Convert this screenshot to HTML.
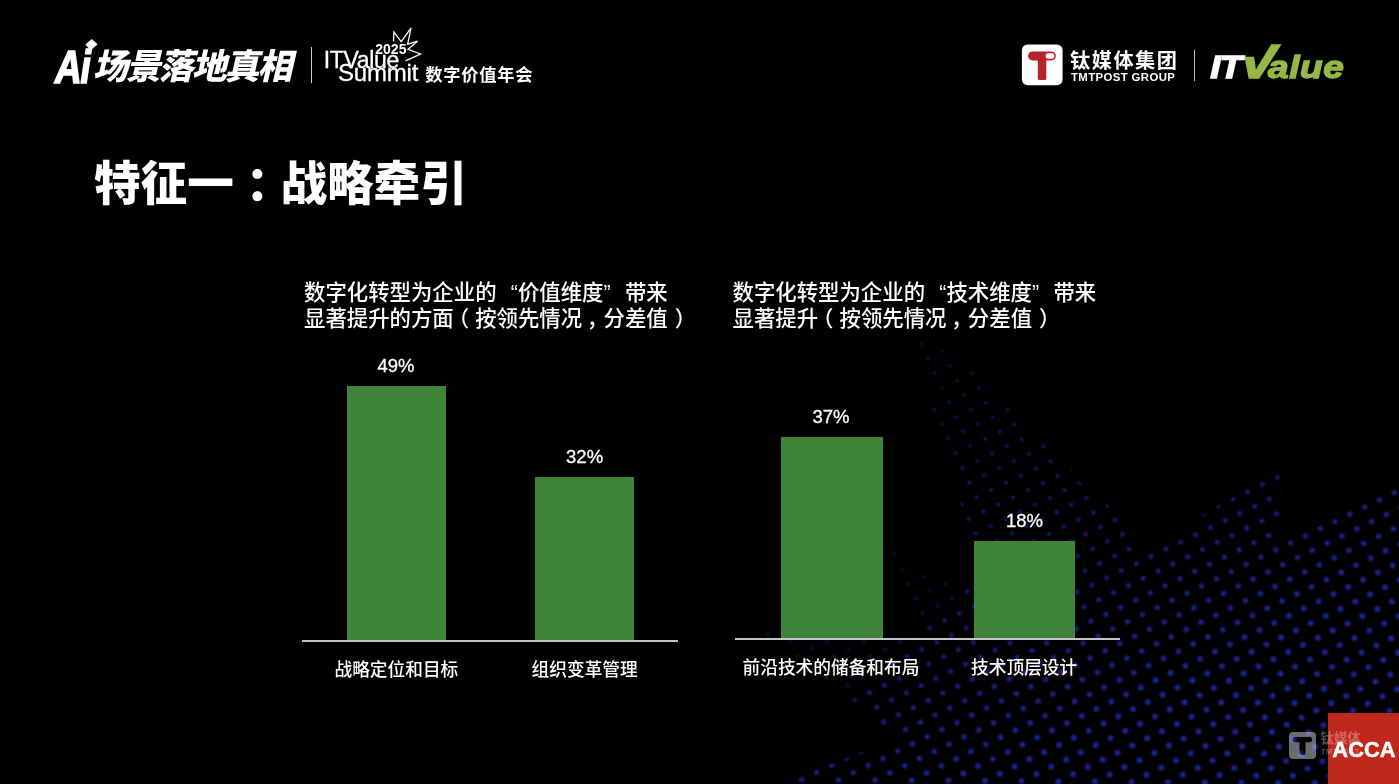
<!DOCTYPE html>
<html lang="zh-CN">
<head>
<meta charset="utf-8">
<title>特征一：战略牵引</title>
<style>
html,body{margin:0;padding:0;background:#000;}
body{width:1399px;height:784px;position:relative;overflow:hidden;color:#fff;
  font-family:"Liberation Sans","Noto Sans CJK SC",sans-serif;}
.abs{position:absolute;white-space:nowrap;}
#dots{position:absolute;left:0;top:0;}
.title{left:94px;top:148.5px;font-size:46.6px;line-height:70px;font-weight:900;letter-spacing:0;}
.sub{font-size:21.4px;line-height:26.3px;font-weight:500;}
.fw{display:inline-block;width:1em;}
.bar{position:absolute;background:#3e853a;}
.axis{position:absolute;height:1.7px;background:#c4c4c4;}
.val{font-size:18.5px;line-height:20px;transform:translateX(-50%);-webkit-text-stroke:0.3px #fff;}
.lab{font-size:17.7px;line-height:20px;transform:translateX(-50%);font-weight:500;}
.sep{position:absolute;width:1px;background:#d0d0d0;}
</style>
</head>
<body>
<svg id="dots" width="1399" height="784" viewBox="0 0 1399 784" fill="#1e2aaa">
<defs><clipPath id="dc"><polygon points="918,336 946,345 1119,516 1135,555 1281,468.5 1283,482 1278,546 1402,485.2 1402,790 770,790 780,784 897,738 760,633 770,626 782,632 884,637 930,637 887.5,548 897,550 925,571 990,596 975,560 966,520 931,409"/></clipPath><filter id="db1" x="-5%" y="-5%" width="110%" height="110%"><feGaussianBlur stdDeviation="0.85"/></filter><filter id="db2" x="-5%" y="-5%" width="110%" height="110%"><feGaussianBlur stdDeviation="0.85"/></filter></defs>
<g clip-path="url(#dc)"><g filter="url(#db1)" fill="#222eaa">
<circle cx="894.6" cy="554.7" r="1.90" fill-opacity="0.32"/>
<circle cx="954.6" cy="489.6" r="1.80" fill-opacity="0.69"/>
<circle cx="961.6" cy="504.2" r="1.85" fill-opacity="0.70"/>
<circle cx="968.6" cy="518.8" r="1.90" fill-opacity="0.72"/>
<circle cx="927.3" cy="394.8" r="1.51" fill-opacity="0.60"/>
<circle cx="934.4" cy="409.4" r="1.56" fill-opacity="0.61"/>
<circle cx="941.4" cy="424.0" r="1.61" fill-opacity="0.63"/>
<circle cx="948.4" cy="438.6" r="1.66" fill-opacity="0.64"/>
<circle cx="955.4" cy="453.2" r="1.70" fill-opacity="0.66"/>
<circle cx="962.4" cy="467.8" r="1.75" fill-opacity="0.67"/>
<circle cx="969.4" cy="482.4" r="1.80" fill-opacity="0.69"/>
<circle cx="976.4" cy="497.0" r="1.85" fill-opacity="0.70"/>
<circle cx="983.5" cy="511.6" r="1.90" fill-opacity="0.72"/>
<circle cx="921.1" cy="343.9" r="1.36" fill-opacity="0.55"/>
<circle cx="928.1" cy="358.5" r="1.41" fill-opacity="0.57"/>
<circle cx="935.1" cy="373.1" r="1.46" fill-opacity="0.58"/>
<circle cx="942.1" cy="387.7" r="1.51" fill-opacity="0.60"/>
<circle cx="949.2" cy="402.3" r="1.56" fill-opacity="0.61"/>
<circle cx="956.2" cy="416.9" r="1.61" fill-opacity="0.63"/>
<circle cx="963.2" cy="431.5" r="1.66" fill-opacity="0.64"/>
<circle cx="970.2" cy="446.1" r="1.71" fill-opacity="0.66"/>
<circle cx="977.2" cy="460.7" r="1.75" fill-opacity="0.67"/>
<circle cx="984.2" cy="475.3" r="1.80" fill-opacity="0.69"/>
<circle cx="991.2" cy="489.9" r="1.85" fill-opacity="0.70"/>
<circle cx="998.3" cy="504.5" r="1.90" fill-opacity="0.72"/>
<circle cx="942.9" cy="351.3" r="1.41" fill-opacity="0.57"/>
<circle cx="949.9" cy="365.9" r="1.46" fill-opacity="0.58"/>
<circle cx="957.0" cy="380.5" r="1.51" fill-opacity="0.60"/>
<circle cx="964.0" cy="395.1" r="1.56" fill-opacity="0.61"/>
<circle cx="971.0" cy="409.7" r="1.61" fill-opacity="0.63"/>
<circle cx="978.0" cy="424.3" r="1.66" fill-opacity="0.64"/>
<circle cx="985.0" cy="438.9" r="1.71" fill-opacity="0.66"/>
<circle cx="992.0" cy="453.5" r="1.75" fill-opacity="0.67"/>
<circle cx="999.0" cy="468.1" r="1.80" fill-opacity="0.69"/>
<circle cx="1006.1" cy="482.7" r="1.85" fill-opacity="0.70"/>
<circle cx="1013.1" cy="497.3" r="1.90" fill-opacity="0.72"/>
<circle cx="971.8" cy="373.3" r="1.51" fill-opacity="0.60"/>
<circle cx="978.8" cy="387.9" r="1.56" fill-opacity="0.61"/>
<circle cx="985.8" cy="402.5" r="1.61" fill-opacity="0.63"/>
<circle cx="992.8" cy="417.1" r="1.66" fill-opacity="0.64"/>
<circle cx="999.8" cy="431.7" r="1.71" fill-opacity="0.66"/>
<circle cx="1006.8" cy="446.3" r="1.76" fill-opacity="0.67"/>
<circle cx="1013.9" cy="460.9" r="1.80" fill-opacity="0.69"/>
<circle cx="1020.9" cy="475.5" r="1.85" fill-opacity="0.70"/>
<circle cx="1027.9" cy="490.1" r="1.90" fill-opacity="0.72"/>
<circle cx="1000.6" cy="395.4" r="1.61" fill-opacity="0.63"/>
<circle cx="1007.6" cy="410.0" r="1.66" fill-opacity="0.64"/>
<circle cx="1014.6" cy="424.6" r="1.71" fill-opacity="0.66"/>
<circle cx="1021.7" cy="439.2" r="1.76" fill-opacity="0.67"/>
<circle cx="1028.7" cy="453.8" r="1.81" fill-opacity="0.69"/>
<circle cx="1035.7" cy="468.4" r="1.85" fill-opacity="0.71"/>
<circle cx="1042.7" cy="483.0" r="1.90" fill-opacity="0.72"/>
<circle cx="1036.5" cy="432.0" r="1.76" fill-opacity="0.68"/>
<circle cx="1043.5" cy="446.6" r="1.81" fill-opacity="0.69"/>
<circle cx="1050.5" cy="461.2" r="1.85" fill-opacity="0.71"/>
<circle cx="1057.5" cy="475.8" r="1.90" fill-opacity="0.72"/>
<circle cx="1072.3" cy="468.6" r="1.90" fill-opacity="0.72"/>
</g><g filter="url(#db2)">
<circle cx="787.0" cy="786.7" r="2.61" fill-opacity="0.81"/>
<circle cx="801.8" cy="779.5" r="2.61" fill-opacity="0.81"/>
<circle cx="816.6" cy="772.4" r="2.61" fill-opacity="0.81"/>
<circle cx="823.7" cy="787.0" r="2.67" fill-opacity="0.82"/>
<circle cx="768.3" cy="633.8" r="2.05" fill-opacity="0.29"/>
<circle cx="775.3" cy="648.4" r="2.11" fill-opacity="0.30"/>
<circle cx="831.5" cy="765.2" r="2.61" fill-opacity="0.81"/>
<circle cx="838.5" cy="779.8" r="2.67" fill-opacity="0.82"/>
<circle cx="790.1" cy="641.2" r="2.11" fill-opacity="0.30"/>
<circle cx="797.2" cy="655.8" r="2.17" fill-opacity="0.31"/>
<circle cx="804.2" cy="670.4" r="2.24" fill-opacity="0.32"/>
<circle cx="846.3" cy="758.0" r="2.61" fill-opacity="0.81"/>
<circle cx="853.3" cy="772.6" r="2.67" fill-opacity="0.82"/>
<circle cx="860.3" cy="787.2" r="2.73" fill-opacity="0.84"/>
<circle cx="805.0" cy="634.1" r="2.11" fill-opacity="0.30"/>
<circle cx="812.0" cy="648.7" r="2.18" fill-opacity="0.31"/>
<circle cx="819.0" cy="663.2" r="2.24" fill-opacity="0.32"/>
<circle cx="826.0" cy="677.9" r="2.30" fill-opacity="0.33"/>
<circle cx="833.0" cy="692.5" r="2.36" fill-opacity="0.33"/>
<circle cx="861.1" cy="750.9" r="2.61" fill-opacity="0.81"/>
<circle cx="868.1" cy="765.5" r="2.67" fill-opacity="0.82"/>
<circle cx="875.1" cy="780.1" r="2.74" fill-opacity="0.84"/>
<circle cx="826.8" cy="641.5" r="2.18" fill-opacity="0.31"/>
<circle cx="833.8" cy="656.1" r="2.24" fill-opacity="0.32"/>
<circle cx="840.8" cy="670.7" r="2.30" fill-opacity="0.33"/>
<circle cx="847.8" cy="685.3" r="2.36" fill-opacity="0.33"/>
<circle cx="854.8" cy="699.9" r="2.43" fill-opacity="0.58"/>
<circle cx="861.9" cy="714.5" r="2.49" fill-opacity="0.77"/>
<circle cx="875.9" cy="743.7" r="2.61" fill-opacity="0.81"/>
<circle cx="882.9" cy="758.3" r="2.67" fill-opacity="0.82"/>
<circle cx="889.9" cy="772.9" r="2.74" fill-opacity="0.84"/>
<circle cx="896.9" cy="787.5" r="2.80" fill-opacity="0.86"/>
<circle cx="841.6" cy="634.3" r="2.18" fill-opacity="0.31"/>
<circle cx="848.6" cy="648.9" r="2.24" fill-opacity="0.32"/>
<circle cx="855.6" cy="663.5" r="2.30" fill-opacity="0.33"/>
<circle cx="862.6" cy="678.1" r="2.36" fill-opacity="0.33"/>
<circle cx="869.7" cy="692.7" r="2.43" fill-opacity="0.76"/>
<circle cx="876.7" cy="707.3" r="2.49" fill-opacity="0.77"/>
<circle cx="883.7" cy="721.9" r="2.55" fill-opacity="0.79"/>
<circle cx="890.7" cy="736.5" r="2.61" fill-opacity="0.81"/>
<circle cx="897.7" cy="751.1" r="2.67" fill-opacity="0.82"/>
<circle cx="904.7" cy="765.7" r="2.74" fill-opacity="0.84"/>
<circle cx="911.7" cy="780.3" r="2.80" fill-opacity="0.86"/>
<circle cx="863.4" cy="641.7" r="2.24" fill-opacity="0.32"/>
<circle cx="870.4" cy="656.3" r="2.30" fill-opacity="0.33"/>
<circle cx="877.4" cy="670.9" r="2.36" fill-opacity="0.33"/>
<circle cx="884.5" cy="685.5" r="2.43" fill-opacity="0.76"/>
<circle cx="891.5" cy="700.1" r="2.49" fill-opacity="0.77"/>
<circle cx="898.5" cy="714.7" r="2.55" fill-opacity="0.79"/>
<circle cx="905.5" cy="729.3" r="2.61" fill-opacity="0.81"/>
<circle cx="912.5" cy="743.9" r="2.68" fill-opacity="0.83"/>
<circle cx="919.5" cy="758.5" r="2.74" fill-opacity="0.84"/>
<circle cx="926.6" cy="773.1" r="2.80" fill-opacity="0.86"/>
<circle cx="933.6" cy="787.7" r="2.86" fill-opacity="0.88"/>
<circle cx="878.2" cy="634.6" r="2.24" fill-opacity="0.32"/>
<circle cx="885.2" cy="649.2" r="2.30" fill-opacity="0.33"/>
<circle cx="892.3" cy="663.8" r="2.37" fill-opacity="0.62"/>
<circle cx="899.3" cy="678.4" r="2.43" fill-opacity="0.76"/>
<circle cx="906.3" cy="693.0" r="2.49" fill-opacity="0.77"/>
<circle cx="913.3" cy="707.6" r="2.55" fill-opacity="0.79"/>
<circle cx="920.3" cy="722.2" r="2.61" fill-opacity="0.81"/>
<circle cx="927.3" cy="736.8" r="2.68" fill-opacity="0.83"/>
<circle cx="934.3" cy="751.4" r="2.74" fill-opacity="0.84"/>
<circle cx="941.4" cy="766.0" r="2.80" fill-opacity="0.86"/>
<circle cx="948.4" cy="780.6" r="2.86" fill-opacity="0.88"/>
<circle cx="900.1" cy="642.0" r="2.30" fill-opacity="0.33"/>
<circle cx="907.1" cy="656.6" r="2.37" fill-opacity="0.74"/>
<circle cx="914.1" cy="671.2" r="2.43" fill-opacity="0.76"/>
<circle cx="921.1" cy="685.8" r="2.49" fill-opacity="0.77"/>
<circle cx="928.1" cy="700.4" r="2.55" fill-opacity="0.79"/>
<circle cx="935.1" cy="715.0" r="2.62" fill-opacity="0.81"/>
<circle cx="942.1" cy="729.6" r="2.68" fill-opacity="0.83"/>
<circle cx="949.2" cy="744.2" r="2.74" fill-opacity="0.84"/>
<circle cx="956.2" cy="758.8" r="2.80" fill-opacity="0.86"/>
<circle cx="963.2" cy="773.4" r="2.86" fill-opacity="0.88"/>
<circle cx="970.2" cy="788.0" r="2.93" fill-opacity="0.89"/>
<circle cx="914.9" cy="634.8" r="2.30" fill-opacity="0.35"/>
<circle cx="921.9" cy="649.4" r="2.37" fill-opacity="0.74"/>
<circle cx="928.9" cy="664.0" r="2.43" fill-opacity="0.76"/>
<circle cx="935.9" cy="678.6" r="2.49" fill-opacity="0.77"/>
<circle cx="942.9" cy="693.2" r="2.55" fill-opacity="0.79"/>
<circle cx="949.9" cy="707.8" r="2.62" fill-opacity="0.81"/>
<circle cx="957.0" cy="722.4" r="2.68" fill-opacity="0.83"/>
<circle cx="964.0" cy="737.0" r="2.74" fill-opacity="0.84"/>
<circle cx="971.0" cy="751.6" r="2.80" fill-opacity="0.86"/>
<circle cx="978.0" cy="766.2" r="2.86" fill-opacity="0.88"/>
<circle cx="985.0" cy="780.8" r="2.93" fill-opacity="0.89"/>
<circle cx="901.6" cy="569.3" r="2.06" fill-opacity="0.30"/>
<circle cx="908.6" cy="583.9" r="2.12" fill-opacity="0.30"/>
<circle cx="915.6" cy="598.5" r="2.18" fill-opacity="0.31"/>
<circle cx="922.7" cy="613.1" r="2.24" fill-opacity="0.32"/>
<circle cx="929.7" cy="627.7" r="2.31" fill-opacity="0.66"/>
<circle cx="936.7" cy="642.3" r="2.37" fill-opacity="0.74"/>
<circle cx="943.7" cy="656.9" r="2.43" fill-opacity="0.76"/>
<circle cx="950.7" cy="671.5" r="2.49" fill-opacity="0.78"/>
<circle cx="957.7" cy="686.1" r="2.55" fill-opacity="0.79"/>
<circle cx="964.7" cy="700.7" r="2.62" fill-opacity="0.81"/>
<circle cx="971.8" cy="715.3" r="2.68" fill-opacity="0.83"/>
<circle cx="978.8" cy="729.9" r="2.74" fill-opacity="0.84"/>
<circle cx="985.8" cy="744.5" r="2.80" fill-opacity="0.86"/>
<circle cx="992.8" cy="759.1" r="2.87" fill-opacity="0.88"/>
<circle cx="999.8" cy="773.7" r="2.93" fill-opacity="0.89"/>
<circle cx="1006.8" cy="788.3" r="2.95" fill-opacity="0.90"/>
<circle cx="916.4" cy="562.1" r="2.06" fill-opacity="0.30"/>
<circle cx="923.4" cy="576.7" r="2.12" fill-opacity="0.30"/>
<circle cx="930.5" cy="591.3" r="2.18" fill-opacity="0.31"/>
<circle cx="937.5" cy="605.9" r="2.24" fill-opacity="0.32"/>
<circle cx="944.5" cy="620.5" r="2.31" fill-opacity="0.72"/>
<circle cx="951.5" cy="635.1" r="2.37" fill-opacity="0.74"/>
<circle cx="958.5" cy="649.7" r="2.43" fill-opacity="0.76"/>
<circle cx="965.5" cy="664.3" r="2.49" fill-opacity="0.78"/>
<circle cx="972.5" cy="678.9" r="2.56" fill-opacity="0.79"/>
<circle cx="979.6" cy="693.5" r="2.62" fill-opacity="0.81"/>
<circle cx="986.6" cy="708.1" r="2.68" fill-opacity="0.83"/>
<circle cx="993.6" cy="722.7" r="2.74" fill-opacity="0.84"/>
<circle cx="1000.6" cy="737.3" r="2.80" fill-opacity="0.86"/>
<circle cx="1007.6" cy="751.9" r="2.87" fill-opacity="0.88"/>
<circle cx="1014.6" cy="766.5" r="2.93" fill-opacity="0.89"/>
<circle cx="1021.6" cy="781.1" r="2.95" fill-opacity="0.90"/>
<circle cx="945.3" cy="584.1" r="2.18" fill-opacity="0.31"/>
<circle cx="952.3" cy="598.7" r="2.24" fill-opacity="0.40"/>
<circle cx="959.3" cy="613.3" r="2.31" fill-opacity="0.72"/>
<circle cx="966.3" cy="627.9" r="2.37" fill-opacity="0.74"/>
<circle cx="973.3" cy="642.5" r="2.43" fill-opacity="0.76"/>
<circle cx="980.3" cy="657.1" r="2.49" fill-opacity="0.78"/>
<circle cx="987.4" cy="671.7" r="2.56" fill-opacity="0.79"/>
<circle cx="994.4" cy="686.3" r="2.62" fill-opacity="0.81"/>
<circle cx="1001.4" cy="700.9" r="2.68" fill-opacity="0.83"/>
<circle cx="1008.4" cy="715.5" r="2.74" fill-opacity="0.84"/>
<circle cx="1015.4" cy="730.1" r="2.81" fill-opacity="0.86"/>
<circle cx="1022.4" cy="744.7" r="2.87" fill-opacity="0.88"/>
<circle cx="1029.4" cy="759.3" r="2.93" fill-opacity="0.89"/>
<circle cx="1036.5" cy="773.9" r="2.95" fill-opacity="0.90"/>
<circle cx="1043.5" cy="788.5" r="2.95" fill-opacity="0.90"/>
<circle cx="967.1" cy="591.5" r="2.25" fill-opacity="0.69"/>
<circle cx="974.1" cy="606.1" r="2.31" fill-opacity="0.72"/>
<circle cx="981.1" cy="620.8" r="2.37" fill-opacity="0.74"/>
<circle cx="988.1" cy="635.4" r="2.43" fill-opacity="0.76"/>
<circle cx="995.1" cy="649.9" r="2.49" fill-opacity="0.78"/>
<circle cx="1002.2" cy="664.5" r="2.56" fill-opacity="0.79"/>
<circle cx="1009.2" cy="679.1" r="2.62" fill-opacity="0.81"/>
<circle cx="1016.2" cy="693.8" r="2.68" fill-opacity="0.83"/>
<circle cx="1023.2" cy="708.4" r="2.74" fill-opacity="0.84"/>
<circle cx="1030.2" cy="722.9" r="2.81" fill-opacity="0.86"/>
<circle cx="1037.2" cy="737.5" r="2.87" fill-opacity="0.88"/>
<circle cx="1044.2" cy="752.1" r="2.93" fill-opacity="0.89"/>
<circle cx="1051.3" cy="766.8" r="2.95" fill-opacity="0.90"/>
<circle cx="1058.3" cy="781.4" r="2.95" fill-opacity="0.90"/>
<circle cx="981.9" cy="584.4" r="2.25" fill-opacity="0.71"/>
<circle cx="988.9" cy="599.0" r="2.31" fill-opacity="0.73"/>
<circle cx="995.9" cy="613.6" r="2.37" fill-opacity="0.74"/>
<circle cx="1002.9" cy="628.2" r="2.43" fill-opacity="0.76"/>
<circle cx="1010.0" cy="642.8" r="2.50" fill-opacity="0.78"/>
<circle cx="1017.0" cy="657.4" r="2.56" fill-opacity="0.79"/>
<circle cx="1024.0" cy="672.0" r="2.62" fill-opacity="0.81"/>
<circle cx="1031.0" cy="686.6" r="2.68" fill-opacity="0.83"/>
<circle cx="1038.0" cy="701.2" r="2.74" fill-opacity="0.84"/>
<circle cx="1045.0" cy="715.8" r="2.81" fill-opacity="0.86"/>
<circle cx="1052.0" cy="730.4" r="2.87" fill-opacity="0.88"/>
<circle cx="1059.1" cy="745.0" r="2.93" fill-opacity="0.89"/>
<circle cx="1066.1" cy="759.6" r="2.95" fill-opacity="0.90"/>
<circle cx="1073.1" cy="774.2" r="2.95" fill-opacity="0.90"/>
<circle cx="1080.1" cy="788.8" r="2.95" fill-opacity="0.90"/>
<circle cx="975.7" cy="533.4" r="2.06" fill-opacity="0.66"/>
<circle cx="982.7" cy="548.0" r="2.12" fill-opacity="0.30"/>
<circle cx="989.7" cy="562.6" r="2.19" fill-opacity="0.44"/>
<circle cx="996.7" cy="577.2" r="2.25" fill-opacity="0.71"/>
<circle cx="1003.7" cy="591.8" r="2.31" fill-opacity="0.73"/>
<circle cx="1010.7" cy="606.4" r="2.37" fill-opacity="0.74"/>
<circle cx="1017.8" cy="621.0" r="2.43" fill-opacity="0.76"/>
<circle cx="1024.8" cy="635.6" r="2.50" fill-opacity="0.78"/>
<circle cx="1031.8" cy="650.2" r="2.56" fill-opacity="0.79"/>
<circle cx="1038.8" cy="664.8" r="2.62" fill-opacity="0.81"/>
<circle cx="1045.8" cy="679.4" r="2.68" fill-opacity="0.83"/>
<circle cx="1052.8" cy="694.0" r="2.75" fill-opacity="0.84"/>
<circle cx="1059.8" cy="708.6" r="2.81" fill-opacity="0.86"/>
<circle cx="1066.9" cy="723.2" r="2.87" fill-opacity="0.88"/>
<circle cx="1073.9" cy="737.8" r="2.93" fill-opacity="0.90"/>
<circle cx="1080.9" cy="752.4" r="2.95" fill-opacity="0.90"/>
<circle cx="1087.9" cy="767.0" r="2.95" fill-opacity="0.90"/>
<circle cx="1094.9" cy="781.6" r="2.95" fill-opacity="0.90"/>
<circle cx="990.5" cy="526.2" r="2.06" fill-opacity="0.66"/>
<circle cx="997.5" cy="540.8" r="2.12" fill-opacity="0.67"/>
<circle cx="1004.5" cy="555.4" r="2.19" fill-opacity="0.69"/>
<circle cx="1011.5" cy="570.0" r="2.25" fill-opacity="0.71"/>
<circle cx="1018.5" cy="584.6" r="2.31" fill-opacity="0.73"/>
<circle cx="1025.5" cy="599.2" r="2.37" fill-opacity="0.74"/>
<circle cx="1032.6" cy="613.8" r="2.43" fill-opacity="0.76"/>
<circle cx="1039.6" cy="628.4" r="2.50" fill-opacity="0.78"/>
<circle cx="1046.6" cy="643.0" r="2.56" fill-opacity="0.79"/>
<circle cx="1053.6" cy="657.6" r="2.62" fill-opacity="0.81"/>
<circle cx="1060.6" cy="672.2" r="2.68" fill-opacity="0.83"/>
<circle cx="1067.6" cy="686.8" r="2.75" fill-opacity="0.84"/>
<circle cx="1074.7" cy="701.4" r="2.81" fill-opacity="0.86"/>
<circle cx="1081.7" cy="716.0" r="2.87" fill-opacity="0.88"/>
<circle cx="1088.7" cy="730.6" r="2.93" fill-opacity="0.90"/>
<circle cx="1095.7" cy="745.2" r="2.95" fill-opacity="0.90"/>
<circle cx="1102.7" cy="759.8" r="2.95" fill-opacity="0.90"/>
<circle cx="1109.7" cy="774.4" r="2.95" fill-opacity="0.90"/>
<circle cx="1116.7" cy="789.0" r="2.95" fill-opacity="0.90"/>
<circle cx="1005.3" cy="519.1" r="2.06" fill-opacity="0.66"/>
<circle cx="1012.3" cy="533.7" r="2.12" fill-opacity="0.67"/>
<circle cx="1019.3" cy="548.3" r="2.19" fill-opacity="0.69"/>
<circle cx="1026.3" cy="562.9" r="2.25" fill-opacity="0.71"/>
<circle cx="1033.3" cy="577.5" r="2.31" fill-opacity="0.73"/>
<circle cx="1040.4" cy="592.1" r="2.37" fill-opacity="0.74"/>
<circle cx="1047.4" cy="606.7" r="2.44" fill-opacity="0.76"/>
<circle cx="1054.4" cy="621.3" r="2.50" fill-opacity="0.78"/>
<circle cx="1061.4" cy="635.9" r="2.56" fill-opacity="0.79"/>
<circle cx="1068.4" cy="650.5" r="2.62" fill-opacity="0.81"/>
<circle cx="1075.4" cy="665.1" r="2.68" fill-opacity="0.83"/>
<circle cx="1082.4" cy="679.7" r="2.75" fill-opacity="0.84"/>
<circle cx="1089.5" cy="694.3" r="2.81" fill-opacity="0.86"/>
<circle cx="1096.5" cy="708.9" r="2.87" fill-opacity="0.88"/>
<circle cx="1103.5" cy="723.5" r="2.93" fill-opacity="0.90"/>
<circle cx="1110.5" cy="738.1" r="2.95" fill-opacity="0.90"/>
<circle cx="1117.5" cy="752.7" r="2.95" fill-opacity="0.90"/>
<circle cx="1124.5" cy="767.3" r="2.95" fill-opacity="0.90"/>
<circle cx="1131.5" cy="781.9" r="2.95" fill-opacity="0.90"/>
<circle cx="1020.1" cy="511.9" r="2.06" fill-opacity="0.66"/>
<circle cx="1027.1" cy="526.5" r="2.13" fill-opacity="0.68"/>
<circle cx="1034.1" cy="541.1" r="2.19" fill-opacity="0.69"/>
<circle cx="1041.1" cy="555.7" r="2.25" fill-opacity="0.71"/>
<circle cx="1048.2" cy="570.3" r="2.31" fill-opacity="0.73"/>
<circle cx="1055.2" cy="584.9" r="2.37" fill-opacity="0.74"/>
<circle cx="1062.2" cy="599.5" r="2.44" fill-opacity="0.76"/>
<circle cx="1069.2" cy="614.1" r="2.50" fill-opacity="0.78"/>
<circle cx="1076.2" cy="628.7" r="2.56" fill-opacity="0.79"/>
<circle cx="1083.2" cy="643.3" r="2.62" fill-opacity="0.81"/>
<circle cx="1090.2" cy="657.9" r="2.69" fill-opacity="0.83"/>
<circle cx="1097.3" cy="672.5" r="2.75" fill-opacity="0.84"/>
<circle cx="1104.3" cy="687.1" r="2.81" fill-opacity="0.86"/>
<circle cx="1111.3" cy="701.7" r="2.87" fill-opacity="0.88"/>
<circle cx="1118.3" cy="716.3" r="2.93" fill-opacity="0.90"/>
<circle cx="1125.3" cy="730.9" r="2.95" fill-opacity="0.90"/>
<circle cx="1132.3" cy="745.5" r="2.95" fill-opacity="0.90"/>
<circle cx="1139.3" cy="760.1" r="2.95" fill-opacity="0.90"/>
<circle cx="1146.4" cy="774.7" r="2.95" fill-opacity="0.90"/>
<circle cx="1153.4" cy="789.3" r="2.95" fill-opacity="0.90"/>
<circle cx="1034.9" cy="504.7" r="2.06" fill-opacity="0.66"/>
<circle cx="1041.9" cy="519.3" r="2.13" fill-opacity="0.68"/>
<circle cx="1048.9" cy="533.9" r="2.19" fill-opacity="0.69"/>
<circle cx="1055.9" cy="548.5" r="2.25" fill-opacity="0.71"/>
<circle cx="1063.0" cy="563.1" r="2.31" fill-opacity="0.73"/>
<circle cx="1070.0" cy="577.7" r="2.37" fill-opacity="0.74"/>
<circle cx="1077.0" cy="592.3" r="2.44" fill-opacity="0.76"/>
<circle cx="1084.0" cy="606.9" r="2.50" fill-opacity="0.78"/>
<circle cx="1091.0" cy="621.5" r="2.56" fill-opacity="0.79"/>
<circle cx="1098.0" cy="636.1" r="2.62" fill-opacity="0.81"/>
<circle cx="1105.1" cy="650.7" r="2.69" fill-opacity="0.83"/>
<circle cx="1112.1" cy="665.3" r="2.75" fill-opacity="0.85"/>
<circle cx="1119.1" cy="679.9" r="2.81" fill-opacity="0.86"/>
<circle cx="1126.1" cy="694.5" r="2.87" fill-opacity="0.88"/>
<circle cx="1133.1" cy="709.1" r="2.94" fill-opacity="0.90"/>
<circle cx="1140.1" cy="723.7" r="2.95" fill-opacity="0.90"/>
<circle cx="1147.1" cy="738.3" r="2.95" fill-opacity="0.90"/>
<circle cx="1154.2" cy="752.9" r="2.95" fill-opacity="0.90"/>
<circle cx="1161.2" cy="767.5" r="2.95" fill-opacity="0.90"/>
<circle cx="1168.2" cy="782.1" r="2.95" fill-opacity="0.90"/>
<circle cx="1049.7" cy="497.6" r="2.06" fill-opacity="0.66"/>
<circle cx="1056.7" cy="512.2" r="2.13" fill-opacity="0.68"/>
<circle cx="1063.7" cy="526.8" r="2.19" fill-opacity="0.69"/>
<circle cx="1070.8" cy="541.4" r="2.25" fill-opacity="0.71"/>
<circle cx="1077.8" cy="556.0" r="2.31" fill-opacity="0.73"/>
<circle cx="1084.8" cy="570.6" r="2.38" fill-opacity="0.74"/>
<circle cx="1091.8" cy="585.2" r="2.44" fill-opacity="0.76"/>
<circle cx="1098.8" cy="599.8" r="2.50" fill-opacity="0.78"/>
<circle cx="1105.8" cy="614.4" r="2.56" fill-opacity="0.79"/>
<circle cx="1112.8" cy="629.0" r="2.62" fill-opacity="0.81"/>
<circle cx="1119.9" cy="643.6" r="2.69" fill-opacity="0.83"/>
<circle cx="1126.9" cy="658.2" r="2.75" fill-opacity="0.85"/>
<circle cx="1133.9" cy="672.8" r="2.81" fill-opacity="0.86"/>
<circle cx="1140.9" cy="687.4" r="2.87" fill-opacity="0.88"/>
<circle cx="1147.9" cy="702.0" r="2.94" fill-opacity="0.90"/>
<circle cx="1154.9" cy="716.6" r="2.95" fill-opacity="0.90"/>
<circle cx="1162.0" cy="731.2" r="2.95" fill-opacity="0.90"/>
<circle cx="1169.0" cy="745.8" r="2.95" fill-opacity="0.90"/>
<circle cx="1176.0" cy="760.4" r="2.95" fill-opacity="0.90"/>
<circle cx="1183.0" cy="775.0" r="2.95" fill-opacity="0.90"/>
<circle cx="1190.0" cy="789.6" r="2.95" fill-opacity="0.90"/>
<circle cx="1064.5" cy="490.4" r="2.07" fill-opacity="0.66"/>
<circle cx="1071.5" cy="505.0" r="2.13" fill-opacity="0.68"/>
<circle cx="1078.5" cy="519.6" r="2.19" fill-opacity="0.69"/>
<circle cx="1085.6" cy="534.2" r="2.25" fill-opacity="0.71"/>
<circle cx="1092.6" cy="548.8" r="2.31" fill-opacity="0.73"/>
<circle cx="1099.6" cy="563.4" r="2.38" fill-opacity="0.74"/>
<circle cx="1106.6" cy="578.0" r="2.44" fill-opacity="0.76"/>
<circle cx="1113.6" cy="592.6" r="2.50" fill-opacity="0.78"/>
<circle cx="1120.6" cy="607.2" r="2.56" fill-opacity="0.79"/>
<circle cx="1127.7" cy="621.8" r="2.63" fill-opacity="0.81"/>
<circle cx="1134.7" cy="636.4" r="2.69" fill-opacity="0.83"/>
<circle cx="1141.7" cy="651.0" r="2.75" fill-opacity="0.85"/>
<circle cx="1148.7" cy="665.6" r="2.81" fill-opacity="0.86"/>
<circle cx="1155.7" cy="680.2" r="2.87" fill-opacity="0.88"/>
<circle cx="1162.7" cy="694.8" r="2.94" fill-opacity="0.90"/>
<circle cx="1169.7" cy="709.4" r="2.95" fill-opacity="0.90"/>
<circle cx="1176.8" cy="724.0" r="2.95" fill-opacity="0.90"/>
<circle cx="1183.8" cy="738.6" r="2.95" fill-opacity="0.90"/>
<circle cx="1190.8" cy="753.2" r="2.95" fill-opacity="0.90"/>
<circle cx="1197.8" cy="767.8" r="2.95" fill-opacity="0.90"/>
<circle cx="1204.8" cy="782.4" r="2.95" fill-opacity="0.90"/>
<circle cx="1079.3" cy="483.2" r="2.07" fill-opacity="0.66"/>
<circle cx="1086.3" cy="497.8" r="2.13" fill-opacity="0.68"/>
<circle cx="1093.4" cy="512.4" r="2.19" fill-opacity="0.69"/>
<circle cx="1100.4" cy="527.0" r="2.25" fill-opacity="0.71"/>
<circle cx="1107.4" cy="541.6" r="2.32" fill-opacity="0.73"/>
<circle cx="1114.4" cy="556.2" r="2.38" fill-opacity="0.74"/>
<circle cx="1121.4" cy="570.8" r="2.44" fill-opacity="0.76"/>
<circle cx="1128.4" cy="585.4" r="2.50" fill-opacity="0.78"/>
<circle cx="1135.5" cy="600.0" r="2.56" fill-opacity="0.79"/>
<circle cx="1142.5" cy="614.6" r="2.63" fill-opacity="0.81"/>
<circle cx="1149.5" cy="629.2" r="2.69" fill-opacity="0.83"/>
<circle cx="1156.5" cy="643.8" r="2.75" fill-opacity="0.85"/>
<circle cx="1163.5" cy="658.4" r="2.81" fill-opacity="0.86"/>
<circle cx="1170.5" cy="673.0" r="2.88" fill-opacity="0.88"/>
<circle cx="1177.5" cy="687.6" r="2.94" fill-opacity="0.90"/>
<circle cx="1184.6" cy="702.2" r="2.95" fill-opacity="0.90"/>
<circle cx="1191.6" cy="716.8" r="2.95" fill-opacity="0.90"/>
<circle cx="1198.6" cy="731.4" r="2.95" fill-opacity="0.90"/>
<circle cx="1205.6" cy="746.0" r="2.95" fill-opacity="0.90"/>
<circle cx="1212.6" cy="760.6" r="2.95" fill-opacity="0.90"/>
<circle cx="1219.6" cy="775.2" r="2.95" fill-opacity="0.90"/>
<circle cx="1226.6" cy="789.8" r="2.95" fill-opacity="0.90"/>
<circle cx="1108.2" cy="505.3" r="2.19" fill-opacity="0.69"/>
<circle cx="1115.2" cy="519.9" r="2.25" fill-opacity="0.71"/>
<circle cx="1122.2" cy="534.5" r="2.32" fill-opacity="0.73"/>
<circle cx="1129.2" cy="549.1" r="2.38" fill-opacity="0.74"/>
<circle cx="1136.2" cy="563.7" r="2.44" fill-opacity="0.76"/>
<circle cx="1143.2" cy="578.2" r="2.50" fill-opacity="0.78"/>
<circle cx="1150.3" cy="592.9" r="2.56" fill-opacity="0.79"/>
<circle cx="1157.3" cy="607.5" r="2.63" fill-opacity="0.81"/>
<circle cx="1164.3" cy="622.1" r="2.69" fill-opacity="0.83"/>
<circle cx="1171.3" cy="636.7" r="2.75" fill-opacity="0.85"/>
<circle cx="1178.3" cy="651.2" r="2.81" fill-opacity="0.86"/>
<circle cx="1185.3" cy="665.9" r="2.88" fill-opacity="0.88"/>
<circle cx="1192.4" cy="680.5" r="2.94" fill-opacity="0.90"/>
<circle cx="1199.4" cy="695.1" r="2.95" fill-opacity="0.90"/>
<circle cx="1206.4" cy="709.7" r="2.95" fill-opacity="0.90"/>
<circle cx="1213.4" cy="724.2" r="2.95" fill-opacity="0.90"/>
<circle cx="1220.4" cy="738.9" r="2.95" fill-opacity="0.90"/>
<circle cx="1227.4" cy="753.5" r="2.95" fill-opacity="0.90"/>
<circle cx="1234.4" cy="768.1" r="2.95" fill-opacity="0.90"/>
<circle cx="1241.5" cy="782.7" r="2.95" fill-opacity="0.90"/>
<circle cx="1151.0" cy="556.5" r="2.44" fill-opacity="0.76"/>
<circle cx="1158.1" cy="571.1" r="2.50" fill-opacity="0.78"/>
<circle cx="1165.1" cy="585.7" r="2.57" fill-opacity="0.80"/>
<circle cx="1172.1" cy="600.3" r="2.63" fill-opacity="0.81"/>
<circle cx="1179.1" cy="614.9" r="2.69" fill-opacity="0.83"/>
<circle cx="1186.1" cy="629.5" r="2.75" fill-opacity="0.85"/>
<circle cx="1193.1" cy="644.1" r="2.81" fill-opacity="0.86"/>
<circle cx="1200.1" cy="658.7" r="2.88" fill-opacity="0.88"/>
<circle cx="1207.2" cy="673.3" r="2.94" fill-opacity="0.90"/>
<circle cx="1214.2" cy="687.9" r="2.95" fill-opacity="0.90"/>
<circle cx="1221.2" cy="702.5" r="2.95" fill-opacity="0.90"/>
<circle cx="1228.2" cy="717.1" r="2.95" fill-opacity="0.90"/>
<circle cx="1235.2" cy="731.7" r="2.95" fill-opacity="0.90"/>
<circle cx="1242.2" cy="746.3" r="2.95" fill-opacity="0.90"/>
<circle cx="1249.2" cy="760.9" r="2.95" fill-opacity="0.90"/>
<circle cx="1256.3" cy="775.5" r="2.95" fill-opacity="0.90"/>
<circle cx="1263.3" cy="790.1" r="2.95" fill-opacity="0.90"/>
<circle cx="1165.9" cy="549.3" r="2.44" fill-opacity="0.76"/>
<circle cx="1172.9" cy="563.9" r="2.50" fill-opacity="0.78"/>
<circle cx="1179.9" cy="578.5" r="2.57" fill-opacity="0.80"/>
<circle cx="1186.9" cy="593.1" r="2.63" fill-opacity="0.81"/>
<circle cx="1193.9" cy="607.7" r="2.69" fill-opacity="0.83"/>
<circle cx="1200.9" cy="622.3" r="2.75" fill-opacity="0.85"/>
<circle cx="1207.9" cy="636.9" r="2.82" fill-opacity="0.86"/>
<circle cx="1215.0" cy="651.5" r="2.88" fill-opacity="0.88"/>
<circle cx="1222.0" cy="666.1" r="2.94" fill-opacity="0.90"/>
<circle cx="1229.0" cy="680.7" r="2.95" fill-opacity="0.90"/>
<circle cx="1236.0" cy="695.3" r="2.95" fill-opacity="0.90"/>
<circle cx="1243.0" cy="709.9" r="2.95" fill-opacity="0.90"/>
<circle cx="1250.0" cy="724.5" r="2.95" fill-opacity="0.90"/>
<circle cx="1257.0" cy="739.1" r="2.95" fill-opacity="0.90"/>
<circle cx="1264.1" cy="753.7" r="2.95" fill-opacity="0.90"/>
<circle cx="1271.1" cy="768.3" r="2.95" fill-opacity="0.90"/>
<circle cx="1278.1" cy="782.9" r="2.95" fill-opacity="0.90"/>
<circle cx="1180.7" cy="542.1" r="2.44" fill-opacity="0.76"/>
<circle cx="1187.7" cy="556.7" r="2.51" fill-opacity="0.78"/>
<circle cx="1194.7" cy="571.3" r="2.57" fill-opacity="0.80"/>
<circle cx="1201.7" cy="585.9" r="2.63" fill-opacity="0.81"/>
<circle cx="1208.7" cy="600.5" r="2.69" fill-opacity="0.83"/>
<circle cx="1215.7" cy="615.1" r="2.75" fill-opacity="0.85"/>
<circle cx="1222.8" cy="629.7" r="2.82" fill-opacity="0.86"/>
<circle cx="1229.8" cy="644.3" r="2.88" fill-opacity="0.88"/>
<circle cx="1236.8" cy="658.9" r="2.94" fill-opacity="0.90"/>
<circle cx="1243.8" cy="673.5" r="2.95" fill-opacity="0.90"/>
<circle cx="1250.8" cy="688.1" r="2.95" fill-opacity="0.90"/>
<circle cx="1257.8" cy="702.7" r="2.95" fill-opacity="0.90"/>
<circle cx="1264.8" cy="717.3" r="2.95" fill-opacity="0.90"/>
<circle cx="1271.9" cy="731.9" r="2.95" fill-opacity="0.90"/>
<circle cx="1278.9" cy="746.5" r="2.95" fill-opacity="0.90"/>
<circle cx="1285.9" cy="761.1" r="2.95" fill-opacity="0.90"/>
<circle cx="1292.9" cy="775.7" r="2.95" fill-opacity="0.90"/>
<circle cx="1299.9" cy="790.3" r="2.95" fill-opacity="0.90"/>
<circle cx="1188.5" cy="520.4" r="2.38" fill-opacity="0.74"/>
<circle cx="1195.5" cy="535.0" r="2.44" fill-opacity="0.76"/>
<circle cx="1202.5" cy="549.6" r="2.51" fill-opacity="0.78"/>
<circle cx="1209.5" cy="564.2" r="2.57" fill-opacity="0.80"/>
<circle cx="1216.5" cy="578.8" r="2.63" fill-opacity="0.81"/>
<circle cx="1223.5" cy="593.4" r="2.69" fill-opacity="0.83"/>
<circle cx="1230.5" cy="608.0" r="2.75" fill-opacity="0.85"/>
<circle cx="1237.6" cy="622.6" r="2.82" fill-opacity="0.86"/>
<circle cx="1244.6" cy="637.2" r="2.88" fill-opacity="0.88"/>
<circle cx="1251.6" cy="651.8" r="2.94" fill-opacity="0.90"/>
<circle cx="1258.6" cy="666.4" r="2.95" fill-opacity="0.90"/>
<circle cx="1265.6" cy="681.0" r="2.95" fill-opacity="0.90"/>
<circle cx="1272.6" cy="695.6" r="2.95" fill-opacity="0.90"/>
<circle cx="1279.7" cy="710.2" r="2.95" fill-opacity="0.90"/>
<circle cx="1286.7" cy="724.8" r="2.95" fill-opacity="0.90"/>
<circle cx="1293.7" cy="739.4" r="2.95" fill-opacity="0.90"/>
<circle cx="1300.7" cy="754.0" r="2.95" fill-opacity="0.90"/>
<circle cx="1307.7" cy="768.6" r="2.95" fill-opacity="0.90"/>
<circle cx="1314.7" cy="783.2" r="2.95" fill-opacity="0.90"/>
<circle cx="1203.3" cy="513.2" r="2.38" fill-opacity="0.75"/>
<circle cx="1210.3" cy="527.8" r="2.44" fill-opacity="0.76"/>
<circle cx="1217.3" cy="542.4" r="2.51" fill-opacity="0.78"/>
<circle cx="1224.3" cy="557.0" r="2.57" fill-opacity="0.80"/>
<circle cx="1231.3" cy="571.6" r="2.63" fill-opacity="0.81"/>
<circle cx="1238.3" cy="586.2" r="2.69" fill-opacity="0.83"/>
<circle cx="1245.4" cy="600.8" r="2.76" fill-opacity="0.85"/>
<circle cx="1252.4" cy="615.4" r="2.82" fill-opacity="0.86"/>
<circle cx="1259.4" cy="630.0" r="2.88" fill-opacity="0.88"/>
<circle cx="1266.4" cy="644.6" r="2.94" fill-opacity="0.90"/>
<circle cx="1273.4" cy="659.2" r="2.95" fill-opacity="0.90"/>
<circle cx="1280.4" cy="673.8" r="2.95" fill-opacity="0.90"/>
<circle cx="1287.4" cy="688.4" r="2.95" fill-opacity="0.90"/>
<circle cx="1294.5" cy="703.0" r="2.95" fill-opacity="0.90"/>
<circle cx="1301.5" cy="717.6" r="2.95" fill-opacity="0.90"/>
<circle cx="1308.5" cy="732.2" r="2.95" fill-opacity="0.90"/>
<circle cx="1315.5" cy="746.8" r="2.95" fill-opacity="0.90"/>
<circle cx="1322.5" cy="761.4" r="2.95" fill-opacity="0.90"/>
<circle cx="1329.5" cy="776.0" r="2.95" fill-opacity="0.90"/>
<circle cx="1336.6" cy="790.6" r="2.95" fill-opacity="0.90"/>
<circle cx="1218.1" cy="506.0" r="2.38" fill-opacity="0.75"/>
<circle cx="1225.1" cy="520.6" r="2.45" fill-opacity="0.76"/>
<circle cx="1232.1" cy="535.2" r="2.51" fill-opacity="0.78"/>
<circle cx="1239.1" cy="549.8" r="2.57" fill-opacity="0.80"/>
<circle cx="1246.1" cy="564.4" r="2.63" fill-opacity="0.81"/>
<circle cx="1253.2" cy="579.0" r="2.69" fill-opacity="0.83"/>
<circle cx="1260.2" cy="593.6" r="2.76" fill-opacity="0.85"/>
<circle cx="1267.2" cy="608.2" r="2.82" fill-opacity="0.86"/>
<circle cx="1274.2" cy="622.8" r="2.88" fill-opacity="0.88"/>
<circle cx="1281.2" cy="637.4" r="2.94" fill-opacity="0.90"/>
<circle cx="1288.2" cy="652.0" r="2.95" fill-opacity="0.90"/>
<circle cx="1295.2" cy="666.6" r="2.95" fill-opacity="0.90"/>
<circle cx="1302.3" cy="681.2" r="2.95" fill-opacity="0.90"/>
<circle cx="1309.3" cy="695.8" r="2.95" fill-opacity="0.90"/>
<circle cx="1316.3" cy="710.4" r="2.95" fill-opacity="0.90"/>
<circle cx="1323.3" cy="725.0" r="2.95" fill-opacity="0.90"/>
<circle cx="1330.3" cy="739.6" r="2.95" fill-opacity="0.90"/>
<circle cx="1337.3" cy="754.2" r="2.95" fill-opacity="0.90"/>
<circle cx="1344.3" cy="768.8" r="2.95" fill-opacity="0.90"/>
<circle cx="1351.4" cy="783.4" r="2.95" fill-opacity="0.90"/>
<circle cx="1232.9" cy="498.9" r="2.38" fill-opacity="0.75"/>
<circle cx="1239.9" cy="513.5" r="2.45" fill-opacity="0.76"/>
<circle cx="1246.9" cy="528.1" r="2.51" fill-opacity="0.78"/>
<circle cx="1253.9" cy="542.7" r="2.57" fill-opacity="0.80"/>
<circle cx="1260.9" cy="557.3" r="2.63" fill-opacity="0.81"/>
<circle cx="1268.0" cy="571.9" r="2.70" fill-opacity="0.83"/>
<circle cx="1275.0" cy="586.5" r="2.76" fill-opacity="0.85"/>
<circle cx="1282.0" cy="601.1" r="2.82" fill-opacity="0.86"/>
<circle cx="1289.0" cy="615.7" r="2.88" fill-opacity="0.88"/>
<circle cx="1296.0" cy="630.3" r="2.94" fill-opacity="0.90"/>
<circle cx="1303.0" cy="644.9" r="2.95" fill-opacity="0.90"/>
<circle cx="1310.0" cy="659.5" r="2.95" fill-opacity="0.90"/>
<circle cx="1317.1" cy="674.1" r="2.95" fill-opacity="0.90"/>
<circle cx="1324.1" cy="688.7" r="2.95" fill-opacity="0.90"/>
<circle cx="1331.1" cy="703.3" r="2.95" fill-opacity="0.90"/>
<circle cx="1338.1" cy="717.9" r="2.95" fill-opacity="0.90"/>
<circle cx="1345.1" cy="732.5" r="2.95" fill-opacity="0.90"/>
<circle cx="1352.1" cy="747.1" r="2.95" fill-opacity="0.90"/>
<circle cx="1359.2" cy="761.7" r="2.95" fill-opacity="0.90"/>
<circle cx="1366.2" cy="776.3" r="2.95" fill-opacity="0.90"/>
<circle cx="1373.2" cy="790.9" r="2.95" fill-opacity="0.90"/>
<circle cx="1247.7" cy="491.7" r="2.38" fill-opacity="0.75"/>
<circle cx="1254.7" cy="506.3" r="2.45" fill-opacity="0.76"/>
<circle cx="1261.7" cy="520.9" r="2.51" fill-opacity="0.78"/>
<circle cx="1268.7" cy="535.5" r="2.57" fill-opacity="0.80"/>
<circle cx="1275.8" cy="550.1" r="2.63" fill-opacity="0.81"/>
<circle cx="1282.8" cy="564.7" r="2.70" fill-opacity="0.83"/>
<circle cx="1289.8" cy="579.3" r="2.76" fill-opacity="0.85"/>
<circle cx="1296.8" cy="593.9" r="2.82" fill-opacity="0.86"/>
<circle cx="1303.8" cy="608.5" r="2.88" fill-opacity="0.88"/>
<circle cx="1310.8" cy="623.1" r="2.94" fill-opacity="0.90"/>
<circle cx="1317.8" cy="637.7" r="2.95" fill-opacity="0.90"/>
<circle cx="1324.9" cy="652.3" r="2.95" fill-opacity="0.90"/>
<circle cx="1331.9" cy="666.9" r="2.95" fill-opacity="0.90"/>
<circle cx="1338.9" cy="681.5" r="2.95" fill-opacity="0.90"/>
<circle cx="1345.9" cy="696.1" r="2.95" fill-opacity="0.90"/>
<circle cx="1352.9" cy="710.7" r="2.95" fill-opacity="0.90"/>
<circle cx="1359.9" cy="725.3" r="2.95" fill-opacity="0.90"/>
<circle cx="1367.0" cy="739.9" r="2.95" fill-opacity="0.90"/>
<circle cx="1374.0" cy="754.5" r="2.95" fill-opacity="0.90"/>
<circle cx="1381.0" cy="769.1" r="2.95" fill-opacity="0.90"/>
<circle cx="1388.0" cy="783.7" r="2.95" fill-opacity="0.90"/>
<circle cx="1262.5" cy="484.5" r="2.39" fill-opacity="0.75"/>
<circle cx="1269.5" cy="499.1" r="2.45" fill-opacity="0.76"/>
<circle cx="1276.5" cy="513.7" r="2.51" fill-opacity="0.78"/>
<circle cx="1290.6" cy="542.9" r="2.63" fill-opacity="0.81"/>
<circle cx="1297.6" cy="557.5" r="2.70" fill-opacity="0.83"/>
<circle cx="1304.6" cy="572.1" r="2.76" fill-opacity="0.85"/>
<circle cx="1311.6" cy="586.7" r="2.82" fill-opacity="0.86"/>
<circle cx="1318.6" cy="601.3" r="2.88" fill-opacity="0.88"/>
<circle cx="1325.6" cy="615.9" r="2.95" fill-opacity="0.90"/>
<circle cx="1332.7" cy="630.5" r="2.95" fill-opacity="0.90"/>
<circle cx="1339.7" cy="645.1" r="2.95" fill-opacity="0.90"/>
<circle cx="1346.7" cy="659.7" r="2.95" fill-opacity="0.90"/>
<circle cx="1353.7" cy="674.3" r="2.95" fill-opacity="0.90"/>
<circle cx="1360.7" cy="688.9" r="2.95" fill-opacity="0.90"/>
<circle cx="1367.7" cy="703.5" r="2.95" fill-opacity="0.90"/>
<circle cx="1374.7" cy="718.1" r="2.95" fill-opacity="0.90"/>
<circle cx="1381.8" cy="732.7" r="2.95" fill-opacity="0.90"/>
<circle cx="1388.8" cy="747.3" r="2.95" fill-opacity="0.90"/>
<circle cx="1395.8" cy="761.9" r="2.95" fill-opacity="0.90"/>
<circle cx="1402.8" cy="776.5" r="2.95" fill-opacity="0.90"/>
<circle cx="1277.3" cy="477.4" r="2.39" fill-opacity="0.75"/>
<circle cx="1284.3" cy="491.9" r="2.45" fill-opacity="0.76"/>
<circle cx="1305.4" cy="535.8" r="2.64" fill-opacity="0.81"/>
<circle cx="1312.4" cy="550.4" r="2.70" fill-opacity="0.83"/>
<circle cx="1319.4" cy="565.0" r="2.76" fill-opacity="0.85"/>
<circle cx="1326.4" cy="579.5" r="2.82" fill-opacity="0.87"/>
<circle cx="1333.4" cy="594.1" r="2.88" fill-opacity="0.88"/>
<circle cx="1340.5" cy="608.8" r="2.95" fill-opacity="0.90"/>
<circle cx="1347.5" cy="623.4" r="2.95" fill-opacity="0.90"/>
<circle cx="1354.5" cy="638.0" r="2.95" fill-opacity="0.90"/>
<circle cx="1361.5" cy="652.5" r="2.95" fill-opacity="0.90"/>
<circle cx="1368.5" cy="667.1" r="2.95" fill-opacity="0.90"/>
<circle cx="1375.5" cy="681.8" r="2.95" fill-opacity="0.90"/>
<circle cx="1382.5" cy="696.4" r="2.95" fill-opacity="0.90"/>
<circle cx="1389.6" cy="711.0" r="2.95" fill-opacity="0.90"/>
<circle cx="1396.6" cy="725.5" r="2.95" fill-opacity="0.90"/>
<circle cx="1403.6" cy="740.1" r="2.95" fill-opacity="0.90"/>
<circle cx="1320.2" cy="528.6" r="2.64" fill-opacity="0.81"/>
<circle cx="1327.2" cy="543.2" r="2.70" fill-opacity="0.83"/>
<circle cx="1334.2" cy="557.8" r="2.76" fill-opacity="0.85"/>
<circle cx="1341.2" cy="572.4" r="2.82" fill-opacity="0.87"/>
<circle cx="1348.2" cy="587.0" r="2.89" fill-opacity="0.88"/>
<circle cx="1355.3" cy="601.6" r="2.95" fill-opacity="0.90"/>
<circle cx="1362.3" cy="616.2" r="2.95" fill-opacity="0.90"/>
<circle cx="1369.3" cy="630.8" r="2.95" fill-opacity="0.90"/>
<circle cx="1376.3" cy="645.4" r="2.95" fill-opacity="0.90"/>
<circle cx="1383.3" cy="660.0" r="2.95" fill-opacity="0.90"/>
<circle cx="1390.3" cy="674.6" r="2.95" fill-opacity="0.90"/>
<circle cx="1397.3" cy="689.2" r="2.95" fill-opacity="0.90"/>
<circle cx="1404.4" cy="703.8" r="2.95" fill-opacity="0.90"/>
<circle cx="1335.0" cy="521.4" r="2.64" fill-opacity="0.81"/>
<circle cx="1342.0" cy="536.0" r="2.70" fill-opacity="0.83"/>
<circle cx="1349.0" cy="550.6" r="2.76" fill-opacity="0.85"/>
<circle cx="1356.0" cy="565.2" r="2.82" fill-opacity="0.87"/>
<circle cx="1363.1" cy="579.8" r="2.89" fill-opacity="0.88"/>
<circle cx="1370.1" cy="594.4" r="2.95" fill-opacity="0.90"/>
<circle cx="1377.1" cy="609.0" r="2.95" fill-opacity="0.90"/>
<circle cx="1384.1" cy="623.6" r="2.95" fill-opacity="0.90"/>
<circle cx="1391.1" cy="638.2" r="2.95" fill-opacity="0.90"/>
<circle cx="1398.1" cy="652.8" r="2.95" fill-opacity="0.90"/>
<circle cx="1405.1" cy="667.4" r="2.95" fill-opacity="0.90"/>
<circle cx="1349.8" cy="514.2" r="2.64" fill-opacity="0.81"/>
<circle cx="1356.8" cy="528.8" r="2.70" fill-opacity="0.83"/>
<circle cx="1363.8" cy="543.4" r="2.76" fill-opacity="0.85"/>
<circle cx="1370.9" cy="558.0" r="2.82" fill-opacity="0.87"/>
<circle cx="1377.9" cy="572.6" r="2.89" fill-opacity="0.88"/>
<circle cx="1384.9" cy="587.2" r="2.95" fill-opacity="0.90"/>
<circle cx="1391.9" cy="601.8" r="2.95" fill-opacity="0.90"/>
<circle cx="1398.9" cy="616.4" r="2.95" fill-opacity="0.90"/>
<circle cx="1364.6" cy="507.1" r="2.64" fill-opacity="0.82"/>
<circle cx="1371.6" cy="521.7" r="2.70" fill-opacity="0.83"/>
<circle cx="1378.6" cy="536.3" r="2.76" fill-opacity="0.85"/>
<circle cx="1385.7" cy="550.9" r="2.83" fill-opacity="0.87"/>
<circle cx="1392.7" cy="565.5" r="2.89" fill-opacity="0.88"/>
<circle cx="1399.7" cy="580.1" r="2.95" fill-opacity="0.90"/>
<circle cx="1379.4" cy="499.9" r="2.64" fill-opacity="0.82"/>
<circle cx="1386.4" cy="514.5" r="2.70" fill-opacity="0.83"/>
<circle cx="1393.5" cy="529.1" r="2.76" fill-opacity="0.85"/>
<circle cx="1400.5" cy="543.7" r="2.83" fill-opacity="0.87"/>
<circle cx="1394.2" cy="492.7" r="2.64" fill-opacity="0.82"/>
<circle cx="1401.3" cy="507.3" r="2.70" fill-opacity="0.83"/>
</g></g>
</svg>

<!-- top-left logo -->
<div class="abs" id="ai" style="left:54.8px;top:39.3px;font-size:46.8px;line-height:56px;font-weight:700;font-style:italic;transform-origin:0 0;transform:scaleX(0.79);letter-spacing:-1.5px;-webkit-text-stroke:1.7px #fff;">Ai</div>
<svg class="abs" style="left:84.5px;top:39px" width="13" height="12" viewBox="0 0 13 12"><path d="M6.8 0 L12.6 5.2 L5.6 11.6 L0.4 5.6 Z" fill="#fff"/></svg>
<div class="abs" id="cjlogo" style="left:89.8px;top:41.7px;font-size:35px;line-height:50px;font-weight:900;letter-spacing:-2.1px;transform-origin:0 100%;transform:skewX(-13deg);">场景落地真相</div>
<div class="sep" style="left:311px;top:47px;height:36px;"></div>
<div class="abs" id="itv" style="-webkit-text-stroke:0.3px #fff;left:323.8px;top:46.3px;font-size:23px;line-height:28px;letter-spacing:-0.35px;">ITValue</div>
<div class="abs" id="summit" style="-webkit-text-stroke:0.3px #fff;left:338px;top:59px;font-size:24px;line-height:28px;letter-spacing:-0.2px;">Summit</div>
<div class="abs" id="y2025" style="left:375.3px;top:40px;font-size:14px;line-height:18px;font-weight:700;">2025</div>
<svg class="abs" style="left:385px;top:22px" width="44" height="44" viewBox="385 22 44 44"><polyline points="393.5,41.2 393.9,32.1 401.2,41.6 411.1,27.9 407.6,44.2 417.5,41.2 408.1,49.3 420.5,54 405.5,60.9" fill="none" stroke="#fff" stroke-width="1.3" stroke-linejoin="miter"/></svg>
<div class="abs" id="nianhui" style="left:425.2px;top:60.8px;font-size:17.3px;line-height:28px;font-weight:700;letter-spacing:0.75px;">数字价值年会</div>

<!-- top-right logos -->
<svg class="abs" style="left:1021px;top:44px" width="42" height="42" viewBox="0 0 42 42">
<rect x="0.9" y="0.4" width="40.7" height="40.8" rx="5.8" fill="#fff"/>
<rect x="7" y="7.5" width="27.9" height="8.9" rx="4.45" fill="#b5232d"/>
<path d="M16.8 11 H25.3 V34.6 a1.5 1.5 0 0 1 -1.5 1.5 H18.3 a1.5 1.5 0 0 1 -1.5 -1.5 Z" fill="#b5232d"/>
<rect x="24.7" y="9.3" width="8.6" height="5.5" rx="2.75" fill="#fff"/>
</svg>
<div class="abs" id="tmtcn" style="left:1070px;top:45.5px;font-size:20.2px;line-height:30px;font-weight:700;letter-spacing:1.5px;">钛媒体集团</div>
<div class="abs" id="tmten" style="left:1071px;top:69.2px;font-size:11.4px;line-height:16px;font-weight:700;letter-spacing:0.38px;">TMTPOST GROUP</div>
<div class="sep" style="left:1193.5px;top:50px;height:31px;background:#bbb;"></div>
<div class="abs" id="itvlogo" style="left:1209px;top:30px;width:130px;height:60px;transform-origin:0 0;transform:scaleX(1.18);font-weight:700;font-style:italic;-webkit-text-stroke:1.3px currentColor;">
<div class="abs" id="it2" style="left:1px;top:19.9px;font-size:31.4px;line-height:36px;letter-spacing:-0.8px;">IT</div>
<div class="abs" id="bigv" style="left:24.8px;top:2.6px;font-size:48.3px;line-height:56px;color:#96b946;clip-path:polygon(0 24.2px,16px 24.2px,16px 0,70px 0,70px 100%,0 100%);">V</div>
<div class="abs" id="alue" style="left:50px;top:19.9px;font-size:31.4px;line-height:36px;color:#96b946;letter-spacing:0.5px;">alue</div>
</div>

<!-- title -->
<div class="abs title" id="title">特征一<span style="position:relative;left:12px">：</span>战略牵引</div>

<!-- left chart -->
<div class="abs sub" id="sub1" style="left:304px;top:279.5px;">数字化转型为企业的<span class="fw" style="text-align:right">“</span>价值维度<span class="fw" style="text-align:left">”</span>带来<br>显著提升的方面<span class="p" style="position:relative;left:-6px">（</span>按领先情况<span style="position:relative;left:4.5px">，</span>分差值<span style="position:relative;left:7px">）</span></div>
<div class="bar" style="left:347px;top:386px;width:99px;height:255px;"></div>
<div class="bar" style="left:535px;top:477px;width:99.3px;height:164px;"></div>
<div class="axis" style="left:302px;top:640.2px;width:376px;"></div>
<div class="abs val" id="v1" style="left:396px;top:356.3px;">49%</div>
<div class="abs val" id="v2" style="left:584.6px;top:447.2px;">32%</div>
<div class="abs lab" id="l1" style="left:396.4px;top:659.6px;">战略定位和目标</div>
<div class="abs lab" id="l2" style="left:584.7px;top:659.6px;">组织变革管理</div>

<!-- right chart -->
<div class="abs sub" id="sub2" style="left:732.5px;top:279.5px;">数字化转型为企业的<span class="fw" style="text-align:right">“</span>技术维度<span class="fw" style="text-align:left">”</span>带来<br>显著提升<span style="position:relative;left:-6px">（</span>按领先情况<span style="position:relative;left:4.5px">，</span>分差值<span style="position:relative;left:7px">）</span></div>
<div class="bar" style="left:781px;top:437px;width:101.6px;height:202px;"></div>
<div class="bar" style="left:974px;top:541px;width:101.4px;height:98px;"></div>
<div class="axis" style="left:734.7px;top:638.1px;width:385.7px;"></div>
<div class="abs val" id="v3" style="left:831px;top:407.2px;">37%</div>
<div class="abs val" id="v4" style="left:1024.5px;top:511.2px;">18%</div>
<div class="abs lab" id="l3" style="left:831px;top:657.5px;">前沿技术的储备和布局</div>
<div class="abs lab" id="l4" style="left:1024.2px;top:657.5px;">技术顶层设计</div>

<!-- watermark + ACCA -->
<div class="abs" style="left:1328px;top:713.4px;width:71px;height:71px;background:#c0281c;"></div>
<div class="abs" id="acca" style="left:1332.3px;top:738.2px;font-size:21.8px;line-height:24px;font-weight:700;-webkit-text-stroke:0.5px #fff;letter-spacing:0.1px;">ACCA</div>
<svg class="abs" style="left:1289px;top:732px;opacity:0.42" width="27" height="27" viewBox="0 0 27 27">
<path fill-rule="evenodd" fill="#fff" d="M4 0 H23 a4 4 0 0 1 4 4 V23 a4 4 0 0 1 -4 4 H4 a4 4 0 0 1 -4 -4 V4 a4 4 0 0 1 4 -4 Z M6 5 a2.6 2.6 0 0 0 0 5.2 H10.5 V21 a2 2 0 0 0 2 2 H14.5 a2 2 0 0 0 2 -2 V10.2 H20.5 a2.6 2.6 0 0 0 0 -5.2 Z"/>
</svg>
<div class="abs" id="wm1" style="left:1320.5px;top:731px;font-size:13.4px;line-height:16px;font-weight:700;opacity:0.3;">钛媒体</div>
<div class="abs" id="wm2" style="left:1321px;top:747px;font-size:7.6px;line-height:10px;font-weight:700;opacity:0.3;letter-spacing:0.3px;">TMTPOST</div>
</body>
</html>
